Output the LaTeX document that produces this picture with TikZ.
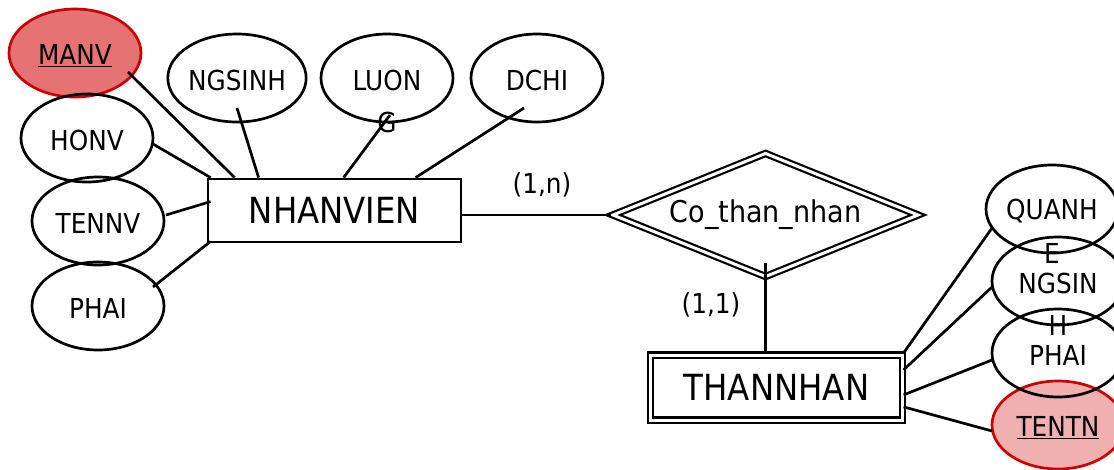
\documentclass[tikz,border=0pt]{standalone}
\usepackage{fontspec}
\setmainfont{DejaVu Sans}[FakeStretch=0.9]
\usetikzlibrary{shapes.geometric,calc}
\definecolor{keyred}{HTML}{CC0000}
\definecolor{keyfillA}{HTML}{E57373}
\definecolor{keyfillB}{HTML}{F0B0B0}
\tikzset{
  attr/.style={ellipse, draw, line width=2.7pt, minimum width=132pt, minimum height=88pt, inner sep=0pt, text height=25pt, font=\fontsize{27.5}{32}\selectfont},
  keyattr/.style={attr, draw=keyred},
  wrapped/.style={font=\fontsize{27.5}{32}\selectfont, anchor=base, yshift=-44pt, inner sep=0pt},
  entity/.style={draw, line width=2.8pt, minimum width=253pt, minimum height=63pt, inner sep=0pt, font=\fontsize{36}{40}\selectfont},
  weakentity/.style={draw, double, double distance=3pt, line width=2.2pt, minimum width=252pt, minimum height=65pt, inner sep=0pt, font=\fontsize{36}{40}\selectfont},
  relship/.style={diamond, draw, double, double distance=3pt, line width=2.2pt, aspect=2.45, minimum width=306pt, minimum height=124pt, inner sep=0pt, font=\fontsize{30}{34}\selectfont},
  card/.style={font=\fontsize{27.5}{32}\selectfont, inner sep=0pt},
  conn/.style={line width=2.7pt}
}
\begin{document}
\begin{tikzpicture}[x=1pt,y=-1pt]
\clip (0,0) rectangle (1114,469);
\fill[white] (0,0) rectangle (1114,469);
% filled key attributes first
\node[keyattr, fill=keyfillA] (manv) at (75,53) {\underline{MANV}};
\node[keyattr, fill=keyfillB] (tentn) at (1058,425) {\underline{TENTN}};
% other attributes
\node[attr] (ngsinh) at (237,78) {NGSINH};
\node[attr, label={[wrapped]center:G}] (luong) at (387,78) {LUON};
\node[attr] (dchi) at (537,78) {DCHI};
\node[attr] (honv) at (87,138) {HONV};
\node[attr] (tennv) at (98,221) {TENNV};
\node[attr] (phai) at (98,306) {PHAI};
\node[attr, label={[wrapped]center:E}] (quanhe) at (1052,209) {QUANH};
\node[attr, label={[wrapped]center:H}] (ngsinhtn) at (1058,281) {NGSIN};
\node[attr] (phaitn) at (1058,353) {PHAI};
% entities and relationship
\node[entity] (nv) at (334.5,210.5) {NHANVIEN};
\node[relship] (rel) at (765.5,215) {Co\_than\_nhan};
\node[weakentity] (tn) at (776.5,387.5) {THANNHAN};
% cardinalities
\node[card] (cardn) at (542,185) {(1,n)};
\node[card] (card1) at (711,305) {(1,1)};
% connectors NHANVIEN
\draw[conn] ($(manv.center)+(53,19)$) -- ($(nv.north west)+(28,0)$);
\draw[conn] ($(ngsinh.center)+(0,30)$) -- ($(nv.north west)+(52,0)$);
\draw[conn] ($(luong.center)+(3,37)$) -- ($(nv.north west)+(137,0)$);
\draw[conn] ($(dchi.center)+(-13,30)$) -- ($(nv.north west)+(209,0)$);
\draw[conn] ($(honv.center)+(66,6)$) -- ($(nv.north west)+(4,0)$);
\draw[conn] ($(tennv.center)+(68,-6)$) -- ($(nv.north west)+(4,24)$);
\draw[conn] ($(phai.center)+(55,-19)$) -- ($(nv.south west)+(4,-2)$);
% relationship connectors
\draw[conn] (nv.east |- rel.west) -- (rel.west);
\draw[conn] ($(rel.south)+(0,-15)$) -- (rel.south |- tn.north);
% connectors THANNHAN
\draw[conn] ($(quanhe.center)+(-60,19)$) -- ($(tn.north east)+(0,-1)$);
\draw[conn] ($(ngsinhtn.center)+(-66,6)$) -- ($(tn.north east)+(0,16)$);
\draw[conn] ($(phaitn.center)+(-66,7)$) -- ($(tn.north east)+(0,41)$);
\draw[conn] ($(tentn.center)+(-66,6)$) -- ($(tn.north east)+(0,53)$);
\end{tikzpicture}
\end{document}
